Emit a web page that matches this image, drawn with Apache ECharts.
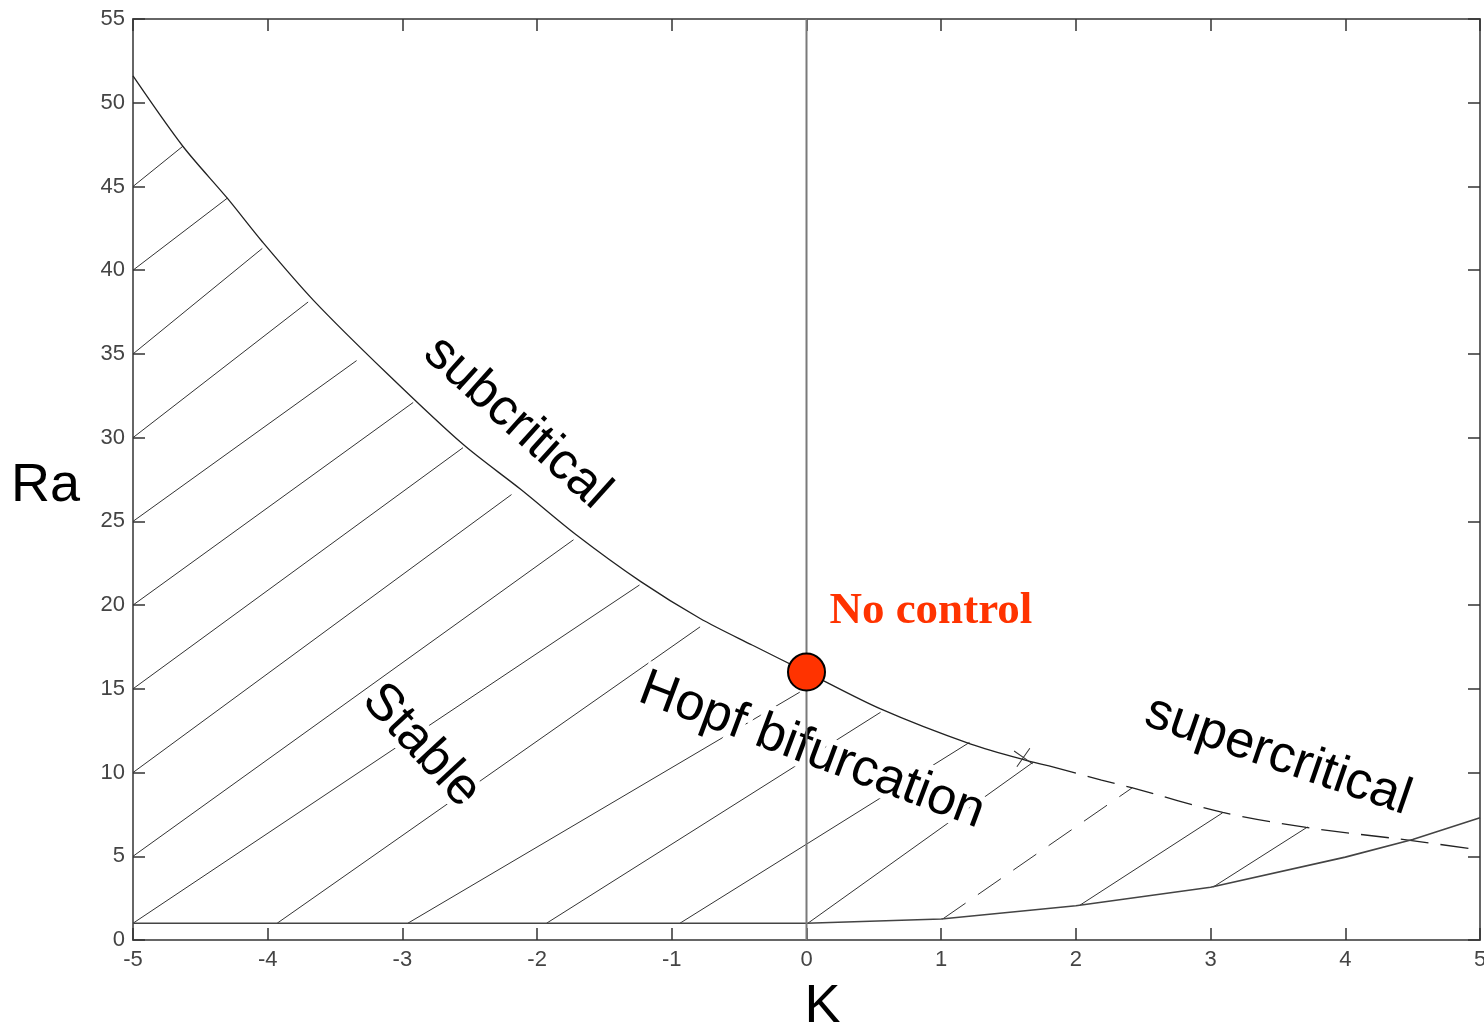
<!DOCTYPE html>
<html>
<head>
<meta charset="utf-8">
<script src="https://cdn.jsdelivr.net/npm/echarts@6/dist/echarts.min.js"></script>
<style>
  html, body { margin: 0; padding: 0; background: #ffffff; }
  #chart { width: 1484px; height: 1028px; }
</style>
</head>
<body>
<div id="chart"></div>
<script>
// Axis ranges
const kRange = [-5, 5];
const raRange = [0, 55];
const kStep = 1;
const raStep = 5;

// Upper stability boundary: solid (subcritical) part, then dashed (supercritical) part
const subcriticalK  = [-5, -4.63, -4.3, -4.04, -3.66, -3.11, -2.55, -2.12, -1.71, -1.23, -0.79, -0.4, 0, 0.55, 1.22, 1.69, 1.8];
const subcriticalRa = [51.6, 47.4, 44.3, 41.7, 38.2, 33.8, 29.6, 26.9, 24.2, 21.4, 19.2, 17.6, 16.0, 13.8, 11.7, 10.6, 10.4];
const supercriticalK  = [1.8, 2.19, 2.42, 3.09, 3.71, 4.48, 5];
const supercriticalRa = [10.4, 9.55, 9.08, 7.62, 6.72, 5.95, 5.37];

// Lower boundary of the stable region
const lowerK  = [-5, 0, 1, 2, 3, 4, 4.5, 5];
const lowerRa = [1, 1, 1.25, 2.05, 3.15, 4.95, 6.0, 7.3];

// Hatching strokes across the stable region (start on the lower/left edge, end near the upper boundary)
const hatchStartK  = [-5, -5, -5, -5, -5, -5, -5, -5, -5, -5, -3.93, -2.96, -1.93, -0.94, 0.01, 1.01, 2.03, 3.02];
const hatchStartRa = [45, 40, 35, 30, 25, 20, 15, 10, 5, 1, 1, 1, 1, 1, 1, 1.25, 2.08, 3.17];
const hatchEndK    = [-4.63, -4.30, -4.04, -3.70, -3.34, -2.92, -2.55, -2.19, -1.73, -1.24, -0.79, -0.05, 0.55, 1.21, 1.68, 2.42, 3.09, 3.72];
const hatchEndRa   = [47.4, 44.3, 41.3, 38.1, 34.6, 32.1, 29.4, 26.6, 23.9, 21.2, 18.7, 14.8, 13.6, 11.8, 10.6, 9.1, 7.6, 6.75];
const hatchDashed  = [false, false, false, false, false, false, false, false, false, false, false, false, false, false, false, true, false, false];

// Uncontrolled case and the sub/supercritical transition
const noControlPoint = [0, 16];
const transitionPoint = [1.61, 10.9];

// Region and curve annotations
const annotationText  = ['subcritical', 'Stable', 'Hopf bifurcation', 'supercritical'];
const annotationK     = [-2.15, -2.86, 0.04, 3.5];
const annotationRa    = [30.9, 11.6, 11.3, 11.0];
const annotationAngle = [-42, -47, -20.5, -19];
const annotationHalo  = [false, true, true, false];

const noControlLabel = 'No control';
const noControlLabelPos = [0.17, 19.6];

const zip = (a, b) => a.map((v, i) => [v, b[i]]);

const chart = echarts.init(document.getElementById('chart'), null, { renderer: 'canvas' });

const tickFont = { fontFamily: 'Liberation Sans, Arial, sans-serif', fontSize: 22, color: '#444' };
const frameLine = { show: true, onZero: false, lineStyle: { color: '#666', width: 2 } };
const innerTick = { show: true, inside: true, length: 12, lineStyle: { color: '#333', width: 1.5 } };
const titleFont = { fontFamily: 'Liberation Sans, Arial, sans-serif', fontSize: 54, color: '#000' };

const option = {
  animation: false,
  backgroundColor: '#ffffff',
  grid: { left: 133, right: 4, top: 19, bottom: 88, containLabel: false, outerBoundsMode: 'none' },
  xAxis: [
    {
      type: 'value', min: kRange[0], max: kRange[1], interval: kStep,
      axisLine: frameLine, axisTick: innerTick, splitLine: { show: false },
      axisLabel: Object.assign({ margin: 9 }, tickFont),
      name: 'K', nameLocation: 'middle', nameGap: 40,
      nameTextStyle: Object.assign({ padding: [0, 0, 0, 32] }, titleFont)
    },
    {
      type: 'value', position: 'top', min: kRange[0], max: kRange[1], interval: kStep,
      axisLine: frameLine, axisTick: innerTick, splitLine: { show: false },
      axisLabel: { show: false }
    }
  ],
  yAxis: [
    {
      type: 'value', min: raRange[0], max: raRange[1], interval: raStep,
      axisLine: frameLine, axisTick: innerTick, splitLine: { show: false },
      axisLabel: Object.assign({ margin: 8 }, tickFont),
      name: '{t|Ra}', nameLocation: 'middle', nameRotate: 0, nameGap: 53,
      nameTextStyle: Object.assign({
        rich: { t: Object.assign({ padding: [13, 0, 0, 0] }, titleFont) }
      }, titleFont)
    },
    {
      type: 'value', position: 'right', min: raRange[0], max: raRange[1], interval: raStep,
      axisLine: frameLine, axisTick: innerTick, splitLine: { show: false },
      axisLabel: { show: false }
    }
  ],
  series: [
    {
      name: 'hatch', type: 'lines', coordinateSystem: 'cartesian2d', polyline: false, z: 2,
      silent: true,
      lineStyle: { color: '#333', width: 1, opacity: 1 },
      data: hatchStartK.map((k, i) => ({
        coords: [[k, hatchStartRa[i]], [hatchEndK[i], hatchEndRa[i]]],
        lineStyle: hatchDashed[i] ? { type: [28, 15] } : {}
      }))
    },
    {
      name: 'subcritical', type: 'line', z: 3, showSymbol: false, smooth: 0.3,
      lineStyle: { color: '#222', width: 1.3 },
      data: zip(subcriticalK, subcriticalRa)
    },
    {
      name: 'supercritical', type: 'line', z: 3, showSymbol: false, smooth: 0.3,
      lineStyle: { color: '#222', width: 1.3, type: [28, 12] },
      data: zip(supercriticalK, supercriticalRa)
    },
    {
      name: 'lower', type: 'line', z: 3, showSymbol: false,
      lineStyle: { color: '#444', width: 1.6 },
      data: zip(lowerK, lowerRa)
    },
    {
      name: 'K = 0', type: 'line', z: 6, showSymbol: false,
      lineStyle: { color: '#7a7a7a', width: 2 },
      data: [[0, raRange[0]], [0, raRange[1]]]
    },
    {
      name: 'transition', type: 'scatter', z: 4,
      symbol: 'path://M0,0L10,10M0,10L10,0', symbolSize: 16, symbolRotate: 10,
      itemStyle: { color: 'none', borderColor: '#333', borderWidth: 1, opacity: 1 },
      data: [transitionPoint]
    },
    {
      name: 'annotations', type: 'scatter', z: 5, symbolSize: 0.1,
      itemStyle: { color: 'transparent', opacity: 1 },
      label: {
        show: true, position: 'inside', align: 'center', verticalAlign: 'middle',
        formatter: p => p.name, opacity: 1,
        fontFamily: 'Liberation Sans, Arial, sans-serif', fontSize: 52, color: '#000'
      },
      data: annotationText.map((t, i) => ({
        name: t,
        value: [annotationK[i], annotationRa[i]],
        label: annotationHalo[i]
          ? { rotate: annotationAngle[i], textBorderColor: '#ffffff', textBorderWidth: 12 }
          : { rotate: annotationAngle[i] }
      }))
    },
    {
      name: 'no control label', type: 'scatter', z: 7, symbolSize: 0.1,
      itemStyle: { color: 'transparent', opacity: 1 },
      label: {
        show: true, position: 'inside', align: 'left', verticalAlign: 'middle',
        formatter: () => noControlLabel, opacity: 1,
        fontFamily: 'Liberation Serif, Times New Roman, serif', fontWeight: 'bold',
        fontSize: 45, color: '#ff3300'
      },
      data: [noControlLabelPos]
    },
    {
      name: 'no control', type: 'scatter', z: 8, symbol: 'circle', symbolSize: 37,
      itemStyle: { color: '#ff3300', borderColor: '#000', borderWidth: 2, opacity: 1 },
      data: [noControlPoint]
    }
  ]
};

chart.setOption(option);
</script>
</body>
</html>
